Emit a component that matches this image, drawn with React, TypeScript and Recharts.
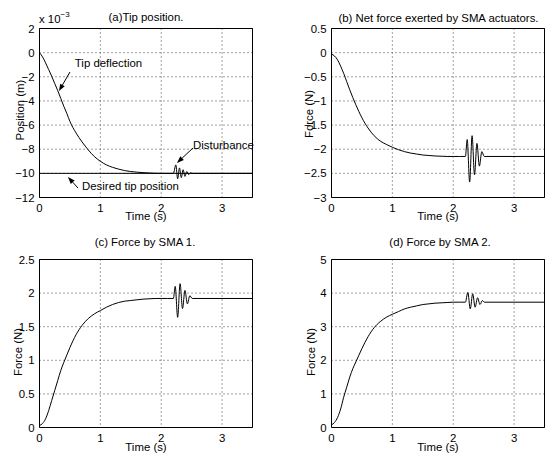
import React from 'react'
import { LineChart, Line, XAxis, YAxis, CartesianGrid, ReferenceArea, ReferenceLine } from 'recharts'

// sample times for the smooth part of every response (s)
const TIME = [0, 0.05, 0.1, 0.15, 0.2, 0.25, 0.3, 0.35, 0.4, 0.45, 0.5, 0.6, 0.7, 0.8, 0.9, 1.0, 1.1, 1.2, 1.3, 1.4, 1.5, 1.6, 1.7, 1.8, 1.9, 2.0, 2.1, 2.2]
const END_TIME = 3.5

// (a) tip position, x 1e-3 m
const TIP_DEFLECTION = [0, -0.35, -0.85, -1.4, -1.95, -2.55, -3.15, -3.8, -4.45, -5.05, -5.7, -6.65, -7.4, -8.05, -8.6, -9.0, -9.3, -9.5, -9.65, -9.77, -9.85, -9.9, -9.94, -9.97, -9.99, -10, -10, -10]
const DIST_TIME_A = [2.24, 2.27, 2.3, 2.33, 2.36, 2.39, 2.42, 2.45, 2.48, 2.51]
const DIST_TIP = [-9.3, -10.45, -9.55, -10.35, -9.7, -10.25, -9.85, -10.1, -9.95, -10]
const DESIRED_TIME = [0, 3.5]
const DESIRED_TIP = [-10, -10]

// (b) net force, N
const NET_FORCE = [-0.03, -0.07, -0.15, -0.28, -0.43, -0.6, -0.77, -0.93, -1.08, -1.22, -1.35, -1.56, -1.72, -1.83, -1.9, -1.96, -2.01, -2.05, -2.08, -2.1, -2.12, -2.13, -2.14, -2.145, -2.15, -2.15, -2.15, -2.15]
const DIST_TIME_B = [2.23, 2.27, 2.31, 2.35, 2.39, 2.43, 2.47, 2.51]
const DIST_NET = [-1.8, -2.68, -1.72, -2.53, -1.88, -2.35, -2.05, -2.15]

// (c) SMA 1 force, N
const SMA1_FORCE = [0.03, 0.06, 0.13, 0.25, 0.4, 0.55, 0.7, 0.85, 0.97, 1.08, 1.19, 1.38, 1.52, 1.62, 1.69, 1.74, 1.79, 1.83, 1.86, 1.88, 1.89, 1.9, 1.91, 1.915, 1.92, 1.92, 1.92, 1.92]
const DIST_TIME_C = [2.23, 2.27, 2.31, 2.35, 2.39, 2.43, 2.47, 2.51]
const DIST_SMA1 = [2.1, 1.64, 2.14, 1.77, 2.04, 1.84, 1.96, 1.92]

// (d) SMA 2 force, N
const SMA2_FORCE = [0.08, 0.15, 0.3, 0.55, 0.9, 1.2, 1.5, 1.75, 1.95, 2.15, 2.35, 2.7, 2.97, 3.15, 3.28, 3.37, 3.45, 3.53, 3.58, 3.62, 3.66, 3.68, 3.7, 3.71, 3.72, 3.73, 3.73, 3.73]
const DIST_TIME_D = [2.24, 2.28, 2.32, 2.36, 2.4, 2.44, 2.48, 2.51]
const DIST_SMA2 = [4.02, 3.53, 3.98, 3.58, 3.86, 3.66, 3.78, 3.73]

const X_TICKS = [0, 1, 2, 3]
const TICKS_A = [-12, -10, -8, -6, -4, -2, 0, 2]
const TICKS_B = [-3, -2.5, -2, -1.5, -1, -0.5, 0, 0.5]
const TICKS_C = [0, 0.5, 1, 1.5, 2, 2.5]
const TICKS_D = [0, 1, 2, 3, 4, 5]

const FONT = '"Liberation Sans", Arial, Helvetica, sans-serif'
const FS = 11.4

function buildRows(smooth: number[], distT: number[], distV: number[]) {
    const rows = TIME.map((t, i) => ({ t, v: smooth[i] }))
    distT.forEach((t, i) => rows.push({ t, v: distV[i] }))
    rows.push({ t: END_TIME, v: distV[distV.length - 1] })
    return rows
}

const fmt = (v: number) => String(v).replace('-', '\u2212')

const Arrow = (p: any) => {
    const { x1, y1, x2, y2 } = p
    const ang = Math.atan2(y2 - y1, x2 - x1)
    const len = 7
    const half = 2.6
    const bx = x2 - len * Math.cos(ang)
    const by = y2 - len * Math.sin(ang)
    const px = -Math.sin(ang) * half
    const py = Math.cos(ang) * half
    return (
        <g>
            <line x1={x1} y1={y1} x2={bx} y2={by} stroke="#000" strokeWidth={1} />
            <polygon points={`${x2},${y2} ${bx + px},${by + py} ${bx - px},${by - py}`} fill="#000" />
        </g>
    )
}

interface PanelProps {
    left: number
    top: number
    width: number
    height: number
    margin: { top: number; right: number; bottom: number; left: number }
    yWidth: number
    xHeight: number
    ticks: number[]
    series: { t: number; v: number }[][]
    children?: React.ReactNode
}

function Panel({ left, top, width, height, margin, yWidth, xHeight, ticks, series, children }: PanelProps) {
    const yMin = ticks[0]
    const yMax = ticks[ticks.length - 1]
    const tickStyle = { fill: '#000', fontSize: FS, fontFamily: FONT }
    return (
        <div style={{ position: 'absolute', left, top }}>
            <LineChart width={width} height={height} margin={margin}>
                <CartesianGrid stroke="#444" strokeDasharray="1 3" strokeWidth={1} />
                <XAxis
                    dataKey="t"
                    type="number"
                    domain={[0, END_TIME]}
                    ticks={X_TICKS}
                    allowDataOverflow
                    height={xHeight}
                    axisLine={false}
                    tickLine={false}
                    tickSize={4}
                    tickMargin={2}
                    interval={0}
                    tick={tickStyle}
                />
                <YAxis
                    type="number"
                    domain={[yMin, yMax]}
                    ticks={ticks}
                    allowDataOverflow
                    width={yWidth}
                    axisLine={false}
                    tickLine={false}
                    tickSize={3}
                    tickMargin={2}
                    interval={0}
                    tickFormatter={fmt}
                    tick={tickStyle}
                />
                <ReferenceArea x1={0} x2={END_TIME} y1={yMin} y2={yMax} fill="none" stroke="#000" strokeWidth={1} ifOverflow="visible" />
                {series.map((d, i) => (
                    <Line
                        key={i}
                        data={d}
                        dataKey="v"
                        type="monotone"
                        stroke="#000"
                        strokeWidth={1}
                        dot={false}
                        activeDot={false}
                        isAnimationActive={false}
                    />
                ))}
                {children}
            </LineChart>
        </div>
    )
}

function Txt({ x, y, s, rot, size }: { x: number; y: number; s: React.ReactNode; rot?: boolean; size?: number }) {
    return (
        <div
            style={{
                position: 'absolute',
                left: x,
                top: y,
                transform: `translate(-50%, -50%)${rot ? ' rotate(-90deg)' : ''}`,
                fontFamily: FONT,
                fontSize: size ?? FS,
                lineHeight: 1,
                whiteSpace: 'nowrap',
                color: '#000'
            }}
        >
            {s}
        </div>
    )
}

export default function App() {
    const tipRows = buildRows(TIP_DEFLECTION, DIST_TIME_A, DIST_TIP)
    const desiredRows = DESIRED_TIME.map((t, i) => ({ t, v: DESIRED_TIP[i] }))
    const netRows = buildRows(NET_FORCE, DIST_TIME_B, DIST_NET)
    const sma1Rows = buildRows(SMA1_FORCE, DIST_TIME_C, DIST_SMA1)
    const sma2Rows = buildRows(SMA2_FORCE, DIST_TIME_D, DIST_SMA2)

    return (
        <div style={{ position: 'absolute', left: 0, top: 0, width: 545, height: 455, background: '#fff', overflow: 'hidden' }}>
            <Panel
                left={0} top={0} width={270} height={220}
                margin={{ top: 28.5, right: 17.5, bottom: 0, left: 0 }}
                yWidth={39.5} xHeight={22.5}
                ticks={TICKS_A}
                series={[desiredRows, tipRows]}
            >
                <ReferenceLine segment={[{ x: 0.501, y: -1.6 }, { x: 0.32, y: -3.18 }]} shape={Arrow} />
                <ReferenceLine segment={[{ x: 2.522, y: -7.9 }, { x: 2.259, y: -9.14 }]} shape={Arrow} />
                <ReferenceLine segment={[{ x: 0.633, y: -11.22 }, { x: 0.468, y: -10.3 }]} shape={Arrow} />
            </Panel>
            <Panel
                left={270} top={0} width={275} height={220}
                margin={{ top: 28.5, right: 0.5, bottom: 0, left: 0 }}
                yWidth={61.5} xHeight={22.5}
                ticks={TICKS_B}
                series={[netRows]}
            />
            <Panel
                left={0} top={220} width={270} height={235}
                margin={{ top: 39.5, right: 17.5, bottom: 0, left: 0 }}
                yWidth={39.5} xHeight={27.5}
                ticks={TICKS_C}
                series={[sma1Rows]}
            />
            <Panel
                left={270} top={220} width={275} height={235}
                margin={{ top: 39.5, right: 0.5, bottom: 0, left: 0 }}
                yWidth={61.5} xHeight={27.5}
                ticks={TICKS_D}
                series={[sma2Rows]}
            />

            <Txt x={146} y={17.5} s="(a)Tip position." />
            <Txt x={438.5} y={18.5} s="(b) Net force exerted by SMA actuators." />
            <Txt x={145} y={242.5} s="(c) Force by SMA 1." />
            <Txt x={440} y={243} s="(d) Force by SMA 2." />

            <Txt x={146} y={216.5} s="Time (s)" />
            <Txt x={438} y={216.5} s="Time (s)" />
            <Txt x={146} y={447.5} s="Time (s)" />
            <Txt x={438} y={447.5} s="Time (s)" />

            <Txt x={20.5} y={110} s="Position (m)" rot />
            <Txt x={310} y={114} s="Force (N)" rot />
            <Txt x={18.5} y={352} s="Force (N)" rot />
            <Txt x={311.5} y={352} s="Force (N)" rot />

            <div style={{ position: 'absolute', left: 39, top: 14, fontFamily: FONT, fontSize: FS, lineHeight: 1, whiteSpace: 'nowrap' }}>
                x 10<sup style={{ fontSize: 8, verticalAlign: 'top', position: 'relative', top: -3 }}>{'\u22123'}</sup>
            </div>

            <Txt x={108.5} y={64} s="Tip deflection" />
            <Txt x={223.5} y={146} s="Disturbance" />
            <Txt x={130.5} y={186.5} s="Desired tip position" />
        </div>
    )
}
